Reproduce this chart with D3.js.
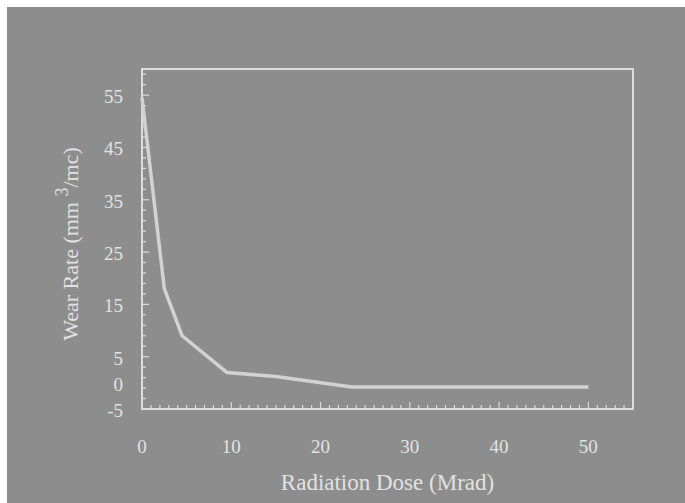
<!DOCTYPE html>
<html>
<head>
<meta charset="utf-8">
<script src="https://cdn.jsdelivr.net/npm/d3@7"></script>
<style>
  body { margin: 0; background: #fff; }
  text { font-family: "Liberation Serif", "Times New Roman", serif; fill: #e2e2e2; }
</style>
</head>
<body>
<svg id="chart" width="685" height="503"></svg>
<script>
// dose (Mrad) and wear rate
const dose = [0, 2.5, 4.5, 9.5, 15, 23.5, 50];
const wear = [54.5, 18, 9, 2, 1.2, -0.8, -0.8];
const xTicks = [0, 10, 20, 30, 40, 50];
const yTicks = [-5, 0, 5, 15, 25, 35, 45, 55];

const svg = d3.select("#chart");
const width = +svg.attr("width");
const height = +svg.attr("height");
const margin = {top: 69, right: 52, bottom: 94, left: 142};
const fg = "#dcdcdc";

svg.append("rect")
    .attr("x", 7).attr("y", 7)
    .attr("width", width - 7).attr("height", height - 7)
    .attr("fill", "#8d8d8d");

const x = d3.scaleLinear().domain([0, 55]).range([margin.left, width - margin.right]);
const y = d3.scaleLinear().domain([-5, 60]).range([height - margin.bottom, margin.top]);

// plot frame
svg.append("rect")
    .attr("x", x(0)).attr("y", y(60))
    .attr("width", x(55) - x(0)).attr("height", y(-5) - y(60))
    .attr("fill", "none")
    .attr("stroke", fg)
    .attr("stroke-width", 2);

// minor ticks (inward)
svg.append("g")
    .selectAll("line")
    .data(d3.range(1, 55))
    .join("line")
    .attr("x1", d => x(d)).attr("x2", d => x(d))
    .attr("y1", y(-5)).attr("y2", d => y(-5) - (d % 10 === 0 ? 7 : 4))
    .attr("stroke", fg).attr("stroke-width", 1.2);

svg.append("g")
    .selectAll("line")
    .data(d3.range(-3, 60, 2))
    .join("line")
    .attr("y1", d => y(d)).attr("y2", d => y(d))
    .attr("x1", x(0)).attr("x2", d => x(0) + ((d - 5) % 10 === 0 ? 7 : 4))
    .attr("stroke", fg).attr("stroke-width", 1.2);

// tick labels
svg.append("g")
    .selectAll("text")
    .data(xTicks)
    .join("text")
    .attr("x", d => x(d))
    .attr("y", y(-5) + 44)
    .attr("text-anchor", "middle")
    .style("font-size", "19px")
    .text(d => d);

svg.append("g")
    .selectAll("text")
    .data(yTicks)
    .join("text")
    .attr("x", 123)
    .attr("y", d => y(d) + 8)
    .attr("text-anchor", "end")
    .style("font-size", "19px")
    .text(d => d);

// data line
const line = d3.line()
    .x((d, i) => x(dose[i]))
    .y(d => y(d));

svg.append("path")
    .datum(wear)
    .attr("d", line)
    .attr("fill", "none")
    .attr("stroke", "#d2d2d2")
    .attr("stroke-width", 3.5)
    .attr("stroke-linejoin", "round");

// axis titles
svg.append("text")
    .attr("x", (x(0) + x(55)) / 2)
    .attr("y", 490)
    .attr("text-anchor", "middle")
    .style("font-size", "23px")
    .text("Radiation Dose (Mrad)");

const yt = svg.append("text")
    .attr("transform", "translate(78, 244) rotate(-90)")
    .attr("text-anchor", "middle")
    .style("font-size", "22px");
yt.append("tspan").text("Wear Rate (mm  ");
yt.append("tspan").attr("dy", -10).style("font-size", "18px").text("3");
yt.append("tspan").attr("dy", 10).text("/mc)");
</script>
</body>
</html>
